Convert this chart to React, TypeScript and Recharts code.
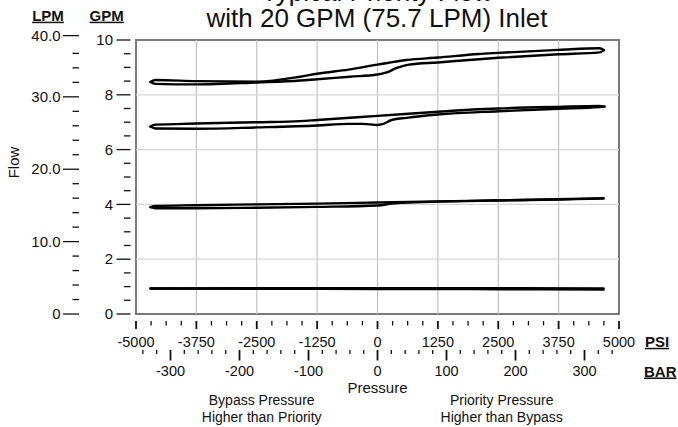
import { LineChart, Line, XAxis, YAxis, ReferenceLine, ReferenceArea } from "recharts";

const FONT = "'Liberation Sans', Arial, Helvetica, sans-serif";

// [psi, gpm] — each loop is read as an outgoing (upper) and a returning (lower) branch
type Pt = [number, number];

const LOOP_A_OUT: Pt[] = [
  [-4700, 8.47], [-4600, 8.54], [-3750, 8.5], [-2500, 8.48], [-1600, 8.66], [-1250, 8.77],
  [-600, 8.92], [0, 9.1], [600, 9.27], [1250, 9.36], [2100, 9.49], [2500, 9.53],
  [3750, 9.64], [4600, 9.7], [4690, 9.63],
];
const LOOP_A_BACK: Pt[] = [
  [-4700, 8.47], [-4600, 8.4], [-3750, 8.38], [-2500, 8.45], [-1600, 8.52], [-1250, 8.57],
  [-575, 8.66], [0, 8.74], [190, 8.82], [400, 8.98], [650, 9.1], [1250, 9.18],
  [2100, 9.3], [2500, 9.35], [3750, 9.48], [4600, 9.55], [4690, 9.63],
];
const LOOP_B_OUT: Pt[] = [
  [-4700, 6.84], [-4600, 6.91], [-3750, 6.95], [-2500, 7.0], [-1600, 7.04], [-1250, 7.08],
  [0, 7.23], [1250, 7.38], [2100, 7.47], [2500, 7.5], [3750, 7.56], [4600, 7.59], [4700, 7.57],
];
const LOOP_B_BACK: Pt[] = [
  [-4700, 6.84], [-4600, 6.77], [-3750, 6.76], [-2500, 6.81], [-1250, 6.88], [-600, 6.94],
  [-300, 6.94], [0, 6.9], [120, 6.94], [290, 7.08], [600, 7.16], [1250, 7.28],
  [2500, 7.4], [3750, 7.49], [4600, 7.55], [4700, 7.57],
];
const LOOP_C_OUT: Pt[] = [
  [-4700, 3.9], [-4600, 3.94], [-3750, 3.97], [-2500, 4.0], [-1250, 4.03], [0, 4.07],
  [1250, 4.11], [2500, 4.15], [3750, 4.19], [4680, 4.23],
];
const LOOP_C_BACK: Pt[] = [
  [-4700, 3.9], [-4600, 3.86], [-3750, 3.86], [-2500, 3.88], [-1250, 3.91], [0, 3.96],
  [300, 4.03], [650, 4.07], [1250, 4.1], [2500, 4.14], [3750, 4.18], [4680, 4.21],
];
const LOOP_D_OUT: Pt[] = [
  [-4700, 0.93], [-2500, 0.94], [0, 0.94], [2500, 0.94], [4680, 0.935],
];
const LOOP_D_BACK: Pt[] = [
  [-4700, 0.93], [-2500, 0.92], [0, 0.915], [2500, 0.905], [4680, 0.895],
];

const BRANCHES = [LOOP_A_OUT, LOOP_A_BACK, LOOP_B_OUT, LOOP_B_BACK, LOOP_C_OUT, LOOP_C_BACK, LOOP_D_OUT, LOOP_D_BACK];

function range(a: number, b: number, step: number) {
  const out: number[] = [];
  for (let v = a; v <= b + 1e-9; v += step) out.push(Math.round(v * 1000) / 1000);
  return out;
}

const PSI_TICKS = range(-5000, 5000, 312.5);
const BAR_TICKS = range(-340, 340, 20);
const GPM_TICKS = range(0, 10, 0.5);
const PSI_GRID = [-3750, -2500, -1250, 0, 1250, 2500, 3750];
const GPM_GRID = [2, 4, 6, 8];

// LPM scale drawn beside the GPM one; the 40.0 mark is squeezed in at the top in the original
const LPM_MARKS = [0, 2, 4, 6, 8, 10, 12, 14, 16, 18, 20, 22, 24, 26, 28, 30, 32, 34, 36, 40];
const LPM_MARK_AT = LPM_MARKS.map((l) => (l === 40 ? 10.16 : l / 3.785));
const LPM_LABELS: Record<number, string> = { 0: "0", 10: "10.0", 20: "20.0", 30: "30.0", 40: "40.0" };

// chart-level rows so the BAR scale (no series of its own) still gets a domain
const BAR_ROWS = BAR_TICKS.map((bar) => ({ bar }));

const INK = "#111";

function PsiTick({ x, y, payload }: any) {
  const v = payload.value;
  const major = Math.abs(v % 1250) < 1e-6;
  return (
    <g>
      <line x1={x} x2={x} y1={y + 7} y2={y + (major ? 15 : 11.5)} stroke={INK} strokeWidth={major ? 1.8 : 1.3} />
      {major && (
        <text x={x} y={y + 33} textAnchor="middle" fontSize={14.5} fontFamily={FONT} fill={INK}>
          {v}
        </text>
      )}
    </g>
  );
}

function BarTick({ x, y, payload }: any) {
  const v = payload.value;
  const major = Math.abs(v % 100) < 1e-6;
  return (
    <g>
      <line x1={x} x2={x} y1={y + 6} y2={y + (major ? 16.5 : 10)} stroke={INK} strokeWidth={major ? 1.8 : 1.3} />
      {major && (
        <text x={x} y={y + 32} textAnchor="middle" fontSize={14.5} fontFamily={FONT} fill={INK}>
          {v}
        </text>
      )}
    </g>
  );
}

function GpmTick({ x, y, payload }: any) {
  const v = payload.value;
  const major = Math.abs(v % 2) < 1e-6;
  return (
    <g>
      <line x1={x - (major ? 19.5 : 12)} x2={x - 5.5} y1={y} y2={y} stroke={INK} strokeWidth={1.3} />
      {major && (
        <text x={x - 23} y={y + 5.2} textAnchor="end" fontSize={15} fontFamily={FONT} fill={INK}>
          {v}
        </text>
      )}
    </g>
  );
}

function LpmTick({ x, y, index }: any) {
  const lpm = LPM_MARKS[index];
  const label = LPM_LABELS[lpm];
  return (
    <g>
      <line x1={x - (label ? 23 : 13.5)} x2={x - 7} y1={y} y2={y} stroke={INK} strokeWidth={1.3} />
      {label && (
        <text x={x - 25.5} y={y + 5.2} textAnchor="end" fontSize={15} fontFamily={FONT} fill={INK}>
          {label}
        </text>
      )}
    </g>
  );
}

const txt = { fontFamily: FONT, fill: INK };

export default function App() {
  return (
    <div style={{ position: "absolute", left: 0, top: 0, width: 678, height: 427, background: "#fff" }}>
      <LineChart width={678} height={427} data={BAR_ROWS} margin={{ top: 40, right: 59, bottom: 53, left: 0 }}>
        <XAxis
          xAxisId="x1psi" type="number" dataKey="p" domain={[-5000, 5000]} allowDataOverflow
          ticks={PSI_TICKS} interval={0} height={30} axisLine={false} tickLine={false}
          tickSize={0} tickMargin={0} tick={(p: any) => <PsiTick {...p} />}
        />
        <XAxis
          xAxisId="x2bar" type="number" dataKey="bar" domain={[-350, 350]} allowDataOverflow
          ticks={BAR_TICKS} interval={0} height={30} axisLine={false} tickLine={false}
          tickSize={0} tickMargin={0} tick={(p: any) => <BarTick {...p} />}
        />
        <YAxis
          yAxisId="y1gpm" type="number" domain={[0, 10]} allowDataOverflow
          ticks={GPM_TICKS} interval={0} width={50} axisLine={false} tickLine={false}
          tickSize={0} tickMargin={0} tick={(p: any) => <GpmTick {...p} />}
        />
        <YAxis
          yAxisId="y2lpm" type="number" domain={[0, 10]} allowDataOverflow
          ticks={LPM_MARK_AT} interval={0} width={86} axisLine={false} tickLine={false}
          tickSize={0} tickMargin={0} tick={(p: any) => <LpmTick {...p} />}
        />

        {PSI_GRID.map((v) => (
          <ReferenceLine key={`vx${v}`} xAxisId="x1psi" yAxisId="y1gpm" x={v} stroke="#c2c2c2" strokeWidth={1.2} />
        ))}
        {GPM_GRID.map((v) => (
          <ReferenceLine key={`hy${v}`} xAxisId="x1psi" yAxisId="y1gpm" y={v} stroke="#d6d6d6" strokeWidth={1.2} />
        ))}
        <ReferenceArea
          xAxisId="x1psi" yAxisId="y1gpm" x1={-5000} x2={5000} y1={0} y2={10}
          fill="none" fillOpacity={0} stroke="#7a7a7a" strokeWidth={2} ifOverflow="visible"
        />

        {BRANCHES.map((b, i) => (
          <Line
            key={i}
            xAxisId="x1psi"
            yAxisId="y1gpm"
            data={b.map(([p, q]) => ({ p, q }))}
            dataKey="q"
            type="monotone"
            stroke="#000"
            strokeWidth={2.4}
            strokeLinecap="round"
            dot={false}
            activeDot={false}
            isAnimationActive={false}
          />
        ))}

        <text x={377} y={1} textAnchor="middle" fontSize={26} {...txt}>Typical Priority Flow</text>
        <text x={377} y={27} textAnchor="middle" fontSize={26} {...txt}>with 20 GPM (75.7 LPM) Inlet</text>

        <text x={48} y={20.7} textAnchor="middle" fontSize={15} fontWeight="bold" textDecoration="underline" {...txt}>LPM</text>
        <text x={106.7} y={20.7} textAnchor="middle" fontSize={15} fontWeight="bold" textDecoration="underline" {...txt}>GPM</text>
        <text x={18.5} y={162.5} textAnchor="middle" fontSize={15} transform="rotate(-90 18.5 162.5)" {...txt}>Flow</text>

        <text x={645} y={346.8} fontSize={15} fontWeight="bold" textDecoration="underline" {...txt}>PSI</text>
        <text x={644} y={376.5} fontSize={15} fontWeight="bold" textDecoration="underline" {...txt}>BAR</text>

        <text x={377.5} y={392.5} textAnchor="middle" fontSize={15} {...txt}>Pressure</text>
        <text x={261.7} y={405} textAnchor="middle" fontSize={14} {...txt}>Bypass Pressure</text>
        <text x={261.7} y={422} textAnchor="middle" fontSize={14} {...txt}>Higher than Priority</text>
        <text x={501.7} y={405} textAnchor="middle" fontSize={14} {...txt}>Priority Pressure</text>
        <text x={501.7} y={422} textAnchor="middle" fontSize={14} {...txt}>Higher than Bypass</text>
      </LineChart>
    </div>
  );
}
